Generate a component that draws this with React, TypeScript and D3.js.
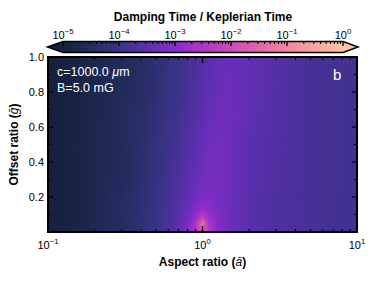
import React from "react";
import * as d3 from "d3";

// aspect ratio samples (columns) and offset ratio samples (rows)
const aspectSamples = [0.1, 0.15, 0.2, 0.3, 0.4, 0.5, 0.6, 0.7, 0.8, 0.9, 1.0, 1.1, 1.25, 1.5, 2, 3, 5, 7, 10];
const offsetSamples = [0.02, 0.05, 0.08, 0.12, 0.16, 0.2, 0.3, 0.5, 0.7, 1.0];

// log10(damping time / keplerian time), one row per offset sample
const logDamping = [
  [-5.0, -4.85, -4.67, -4.45, -4.22, -3.97, -3.76, -3.5, -3.15, -2.55, -1.6, -2.5, -3.02, -3.32, -3.54, -3.68, -3.8, -3.86, -3.9],
  [-5.0, -4.85, -4.67, -4.45, -4.22, -3.97, -3.77, -3.52, -3.2, -2.6, -1.35, -2.55, -3.05, -3.33, -3.54, -3.68, -3.8, -3.86, -3.9],
  [-5.0, -4.85, -4.67, -4.45, -4.22, -3.98, -3.78, -3.55, -3.28, -2.85, -2.15, -2.75, -3.1, -3.34, -3.54, -3.68, -3.8, -3.86, -3.9],
  [-5.0, -4.85, -4.67, -4.45, -4.23, -3.99, -3.8, -3.58, -3.35, -3.05, -2.7, -2.95, -3.16, -3.35, -3.54, -3.68, -3.8, -3.86, -3.9],
  [-5.0, -4.85, -4.67, -4.45, -4.24, -4.0, -3.82, -3.62, -3.42, -3.2, -3.0, -3.06, -3.2, -3.35, -3.54, -3.68, -3.8, -3.86, -3.9],
  [-5.0, -4.85, -4.67, -4.45, -4.25, -4.02, -3.84, -3.66, -3.48, -3.3, -3.15, -3.15, -3.22, -3.35, -3.53, -3.68, -3.8, -3.86, -3.9],
  [-5.0, -4.85, -4.68, -4.47, -4.27, -4.05, -3.88, -3.72, -3.55, -3.4, -3.28, -3.22, -3.22, -3.32, -3.52, -3.67, -3.8, -3.85, -3.9],
  [-5.0, -4.85, -4.7, -4.5, -4.3, -4.1, -3.95, -3.8, -3.65, -3.5, -3.4, -3.3, -3.25, -3.3, -3.5, -3.65, -3.8, -3.85, -3.9],
  [-5.0, -4.88, -4.72, -4.52, -4.35, -4.18, -4.03, -3.9, -3.77, -3.65, -3.52, -3.42, -3.33, -3.3, -3.45, -3.62, -3.8, -3.85, -3.9],
  [-5.0, -4.9, -4.75, -4.55, -4.4, -4.25, -4.1, -4.0, -3.85, -3.75, -3.65, -3.55, -3.45, -3.35, -3.4, -3.6, -3.8, -3.85, -3.9],
];

// colormap
const cmapStops = [-5, -4.5, -4, -3.5, -3, -2.5, -2, -1.5, -1, -0.5, 0];
const cmapColors = ["#15213c", "#232c5c", "#393385", "#5c2fb0", "#8a2ccb", "#b035c8", "#cf4ab6", "#e565a8", "#f4859e", "#fca49e", "#ffc4a4"];

const cbarDecades = [-5, -4, -3, -2, -1, 0];
const xMajor = [0.1, 1, 10];
const yTicks = [0.2, 0.4, 0.6, 0.8, 1.0];

const FONT = "'Liberation Sans', Arial, Helvetica, sans-serif";

const Sup = ({ x, y, base, exp, size }: { x: number; y: number; base: string; exp: string; size: number }) => (
  <text x={x} y={y} textAnchor="middle" fontSize={size} fontFamily={FONT}>
    {base}
    <tspan fontSize={size * 0.7} dy={-size * 0.45}>{exp}</tspan>
  </text>
);

export default function App() {
  const W = 376;
  const H = 281;
  const left = 48, right = 357, top = 57, bottom = 232;

  const x = d3.scaleLog().domain([0.1, 10]).range([left, right]);
  const y = d3.scaleLinear().domain([0, 1]).range([bottom, top]);
  const color = d3.scaleLinear<string>().domain(cmapStops).range(cmapColors).interpolate(d3.interpolateRgb).clamp(true);

  const cbL = 63, cbR = 343, cbT = 41.5, cbB = 52.5;
  const cb = d3.scaleLinear().domain([-5, 0]).range([cbL, cbR]);
  const cbMid = (cbT + cbB) / 2;

  const xMinor: number[] = [];
  [0.1, 1].forEach((d) => { for (let k = 2; k <= 9; k++) xMinor.push(d * k); });
  const yMinor = d3.range(1, 10, 2).map((k) => k / 10);
  const cbMinor: number[] = [];
  cbarDecades.slice(0, -1).forEach((d) => { for (let k = 2; k <= 9; k++) cbMinor.push(d + Math.log10(k)); });

  const span = right - left;

  return (
    <svg width={W} height={H} style={{ position: "absolute", left: 0, top: 0 }}>
      <defs>
        {logDamping.map((row, i) => (
          <linearGradient key={i} id={`row${i}`} gradientUnits="userSpaceOnUse" x1={left} x2={right} y1={0} y2={0}>
            {row.map((v, j) => (
              <stop key={j} offset={(x(aspectSamples[j]) - left) / span} stopColor={color(v)} />
            ))}
          </linearGradient>
        ))}
        <linearGradient id="fade" x1={0} y1={1} x2={0} y2={0}>
          <stop offset={0} stopColor="#fff" stopOpacity={0} />
          <stop offset={1} stopColor="#fff" stopOpacity={1} />
        </linearGradient>
        <mask id="fadeUp" maskContentUnits="objectBoundingBox">
          <rect x={0} y={0} width={1} height={1} fill="url(#fade)" />
        </mask>
        <linearGradient id="cbar" gradientUnits="userSpaceOnUse" x1={cbL} x2={cbR} y1={0} y2={0}>
          {cmapStops.map((s, i) => (
            <stop key={i} offset={(cb(s) - cbL) / (cbR - cbL)} stopColor={cmapColors[i]} />
          ))}
        </linearGradient>
        <clipPath id="plotClip">
          <rect x={left} y={top} width={span} height={bottom - top} />
        </clipPath>
      </defs>

      {/* heatmap */}
      <g clipPath="url(#plotClip)">
        <rect x={left} y={y(offsetSamples[0]) - 0.5} width={span} height={bottom - y(offsetSamples[0]) + 1} fill="url(#row0)" />
        {offsetSamples.slice(0, -1).map((g, i) => {
          const yb = y(g);
          const yt = y(offsetSamples[i + 1]);
          return (
            <g key={i}>
              <rect x={left} y={yt - 0.5} width={span} height={yb - yt + 1} fill={`url(#row${i})`} />
              <rect x={left} y={yt} width={span} height={yb - yt} fill={`url(#row${i + 1})`} mask="url(#fadeUp)" />
            </g>
          );
        })}
      </g>

      {/* axis ticks, inside on all four sides */}
      <g stroke="#000">
        {xMinor.map((d) => (
          <g key={`xm${d}`} strokeWidth={1}>
            <line x1={x(d)} x2={x(d)} y1={bottom} y2={bottom - 3} />
            <line x1={x(d)} x2={x(d)} y1={top} y2={top + 3} />
          </g>
        ))}
        {xMajor.map((d) => (
          <g key={`xM${d}`} strokeWidth={1.5}>
            <line x1={x(d)} x2={x(d)} y1={bottom} y2={bottom - 6} />
            <line x1={x(d)} x2={x(d)} y1={top} y2={top + 6} />
          </g>
        ))}
        {yMinor.map((d) => (
          <g key={`ym${d}`} strokeWidth={1}>
            <line x1={left} x2={left + 3} y1={y(d)} y2={y(d)} />
            <line x1={right} x2={right - 3} y1={y(d)} y2={y(d)} />
          </g>
        ))}
        {yTicks.map((d) => (
          <g key={`yM${d}`} strokeWidth={1.2}>
            <line x1={left} x2={left + 5} y1={y(d)} y2={y(d)} />
            <line x1={right} x2={right - 5} y1={y(d)} y2={y(d)} />
          </g>
        ))}
      </g>
      <rect x={left} y={top} width={span} height={bottom - top} fill="none" stroke="#000" strokeWidth={2} />

      {/* axis tick labels */}
      {xMajor.map((d) => (
        <Sup key={`xl${d}`} x={x(d)} y={249} base="10" exp={d3.format("")(Math.log10(d)).replace("-", "\u2212")} size={11} />
      ))}
      {yTicks.map((d) => (
        <text key={`yl${d}`} x={left - 4} y={y(d)} dy="0.36em" textAnchor="end" fontSize={11} fontFamily={FONT}>
          {d.toFixed(1)}
        </text>
      ))}

      {/* axis titles */}
      <text x={(left + right) / 2} y={265.5} textAnchor="middle" fontSize={12} fontWeight="bold" fontFamily={FONT}>
        Aspect ratio (<tspan fontStyle="italic" fontWeight="normal">ā</tspan>)
      </text>
      <text transform={`translate(18,${(top + bottom) / 2}) rotate(-90)`} textAnchor="middle" fontSize={12} fontWeight="bold" fontFamily={FONT}>
        Offset ratio (<tspan fontStyle="italic" fontWeight="normal">ḡ</tspan>)
      </text>

      {/* annotations */}
      <text x={57} y={76} fill="#fff" fontSize={12.5} fontFamily={FONT}>
        c=1000.0 <tspan fontStyle="italic">μ</tspan>m
      </text>
      <text x={57} y={92} fill="#fff" fontSize={12.5} fontFamily={FONT}>
        B=5.0 mG
      </text>
      <text x={333} y={80} fill="#fff" fontSize={15} fontFamily={FONT}>
        b
      </text>

      {/* colorbar */}
      <path d={`M${cbL},${cbT}L${cbL - 15.5},${cbMid}L${cbL},${cbB}Z`} fill={cmapColors[0]} />
      <path d={`M${cbR},${cbT}L${cbR + 15},${cbMid}L${cbR},${cbB}Z`} fill={cmapColors[cmapColors.length - 1]} />
      <rect x={cbL} y={cbT} width={cbR - cbL} height={cbB - cbT} fill="url(#cbar)" />
      <g stroke="#000">
        {cbMinor.map((d) => (
          <line key={`cm${d}`} x1={cb(d)} x2={cb(d)} y1={cbT} y2={cbT + 2.5} strokeWidth={1} />
        ))}
        {cbarDecades.map((d) => (
          <line key={`cM${d}`} x1={cb(d)} x2={cb(d)} y1={cbT} y2={cbT + 4.5} strokeWidth={1.3} />
        ))}
      </g>
      <path
        d={`M${cbL},${cbT}L${cbR},${cbT}L${cbR + 15},${cbMid}L${cbR},${cbB}L${cbL},${cbB}L${cbL - 15.5},${cbMid}Z`}
        fill="none"
        stroke="#000"
        strokeWidth={1.5}
      />
      {cbarDecades.map((d) => (
        <Sup key={`cl${d}`} x={cb(d)} y={38.5} base="10" exp={String(d).replace("-", "\u2212")} size={11} />
      ))}
      <text x={(cbL + cbR) / 2} y={20.5} textAnchor="middle" fontSize={12} fontWeight="bold" fontFamily={FONT}>
        Damping Time / Keplerian Time
      </text>
    </svg>
  );
}
